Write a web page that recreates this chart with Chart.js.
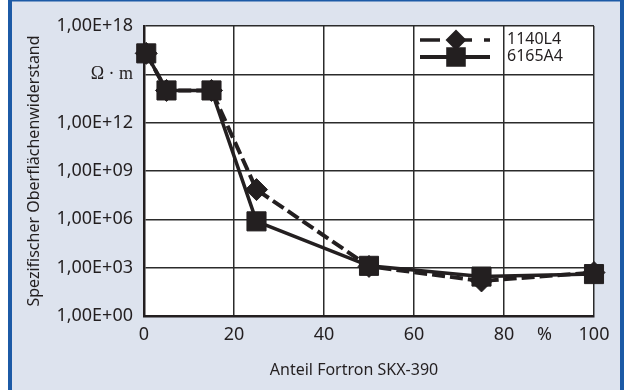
<!DOCTYPE html>
<html>
<head>
<meta charset="utf-8">
<script src="https://cdn.jsdelivr.net/npm/chart.js@4/dist/chart.umd.min.js"></script>
<style>
  html, body { margin: 0; padding: 0; background: #ffffff; }
  #wrap { width: 624px; height: 390px; }
</style>
</head>
<body>
<div id="wrap"><canvas id="resistChart" width="624" height="390"></canvas></div>
<script>
// Anteil Fortron SKX-390 (%)
const shares = [0.5, 5, 15, 25, 50, 75, 100];
// spezifischer Oberflächenwiderstand (Ω · m)
const values1140L4 = [2e16, 1e14, 1e14, 7e7, 1.2e3, 150, 500];
const values6165A4 = [2e16, 1e14, 1e14, 7.5e5, 1.3e3, 280, 400];

const xTickValues = [0, 20, 40, 60, 80, 89, 100];
const xTickLabels = ["0", "20", "40", "60", "80", "%", "100"];
const yTickValues = [1, 1e3, 1e6, 1e9, 1e12, 1e15, 1e18];
const yTickLabels = ["1,00E+00", "1,00E+03", "1,00E+06", "1,00E+09", "1,00E+12", "\u03A9 \u00B7 m", "1,00E+18"];

const ink = "#231f20";
const gridInk = "#2b2b2b";
const font = "'Noto Sans', 'DejaVu Sans', sans-serif";

/**
 * Frame, panel colour and white plot area
 */
const backdrop = {
  id: "backdrop",
  beforeDraw(chart) {
    const { ctx, width, height, chartArea } = chart;
    ctx.save();
    ctx.fillStyle = "#ffffff";
    ctx.fillRect(0, 0, width, height);
    ctx.fillStyle = "#dde3ee";
    ctx.fillRect(12, 0, width - 16, height);
    ctx.fillStyle = "#1c5aa6";
    ctx.fillRect(8, 0, 4, height);
    ctx.fillRect(width - 4, 0, 4, height);
    ctx.fillRect(8, 0, width - 8, 1.5);
    ctx.fillStyle = "#ffffff";
    ctx.fillRect(chartArea.left, chartArea.top, chartArea.right - chartArea.left, chartArea.bottom - chartArea.top);
    ctx.restore();
  },
};

/**
 * x axis title (sits left of centre) and legend inside the plot
 */
const extras = {
  id: "extras",
  afterDraw(chart) {
    const { ctx } = chart;
    ctx.save();
    ctx.fillStyle = ink;
    ctx.font = "16px " + font;
    ctx.textAlign = "center";
    ctx.textBaseline = "middle";
    ctx.fillText("Anteil Fortron SKX-390", 354, 370);

    // legend
    const rows = [
      { label: chart.data.datasets[0].label, y: 40, dash: [20, 12], style: "rectRot", r: 8, lw: 3.5 },
      { label: chart.data.datasets[1].label, y: 57, dash: [], style: "rect", r: 11, lw: 4 },
    ];
    rows.forEach((row) => {
      ctx.strokeStyle = ink;
      ctx.lineWidth = row.lw;
      ctx.setLineDash(row.dash);
      ctx.beginPath();
      ctx.moveTo(420, row.y);
      ctx.lineTo(490, row.y);
      ctx.stroke();
      ctx.setLineDash([]);
      Chart.helpers.drawPoint(ctx, { pointStyle: row.style, radius: row.r, borderWidth: 1 }, 456, row.y);
      ctx.fill();
      ctx.textAlign = "left";
      ctx.font = "16px " + font;
      ctx.fillText(row.label, 507, row.y - 1);
    });
    ctx.restore();
  },
};

const ctx = document.getElementById("resistChart").getContext("2d");

new Chart(ctx, {
  type: "line",
  data: {
    datasets: [
      {
        label: "1140L4",
        data: shares.map((x, i) => ({ x, y: values1140L4[i] })),
        borderColor: ink,
        backgroundColor: ink,
        borderWidth: 4,
        borderDash: [13, 5],
        pointStyle: "rectRot",
        pointRadius: 11,
        pointBorderWidth: 1,
        tension: 0,
        order: 2,
      },
      {
        label: "6165A4",
        data: shares.map((x, i) => ({ x, y: values6165A4[i] })),
        borderColor: ink,
        backgroundColor: ink,
        borderWidth: 3.5,
        pointStyle: "rect",
        pointRadius: 13.5,
        pointBorderWidth: 1,
        tension: 0,
        order: 1,
      },
    ],
  },
  options: {
    responsive: false,
    animation: false,
    clip: false,
    layout: {
      padding: { left: 0, right: 30, top: 26, bottom: 0 },
    },
    scales: {
      x: {
        type: "linear",
        min: 0,
        max: 100,
        afterBuildTicks: (scale) => {
          scale.ticks = xTickValues.map((v) => ({ value: v }));
        },
        afterFit: (scale) => {
          scale.height = 74;
        },
        ticks: {
          padding: 8,
          color: ink,
          font: { family: font, size: 18 },
          maxRotation: 0,
          autoSkip: false,
          callback: (value, i) => xTickLabels[i],
        },
        grid: {
          drawTicks: false,
          lineWidth: 1.5,
          color: (c) => (c.tick && xTickLabels[xTickValues.indexOf(c.tick.value)] === "%" ? "rgba(0,0,0,0)" : gridInk),
        },
        border: { color: ink, width: 2.5 },
        title: { display: false },
      },
      y: {
        type: "logarithmic",
        min: 1,
        max: 1e18,
        afterBuildTicks: (scale) => {
          scale.ticks = yTickValues.map((v) => ({ value: v }));
        },
        afterFit: (scale) => {
          scale.width = 144;
        },
        ticks: {
          padding: 11,
          color: ink,
          autoSkip: false,
          font: (c) =>
            c.tick && c.tick.value === 1e15
              ? { family: "'Liberation Serif', serif", size: 18 }
              : { family: font, size: 18 },
          callback: (value, i) => yTickLabels[i],
        },
        grid: {
          drawTicks: false,
          lineWidth: 1.5,
          color: gridInk,
        },
        border: { color: ink, width: 2.5 },
        title: {
          display: true,
          text: "Spezifischer Oberflächenwiderstand",
          color: ink,
          font: { family: font, size: 16 },
          padding: { top: 25, bottom: 0 },
        },
      },
    },
    plugins: {
      legend: { display: false },
      tooltip: { enabled: false },
    },
  },
  plugins: [backdrop, extras],
});
</script>
</body>
</html>
